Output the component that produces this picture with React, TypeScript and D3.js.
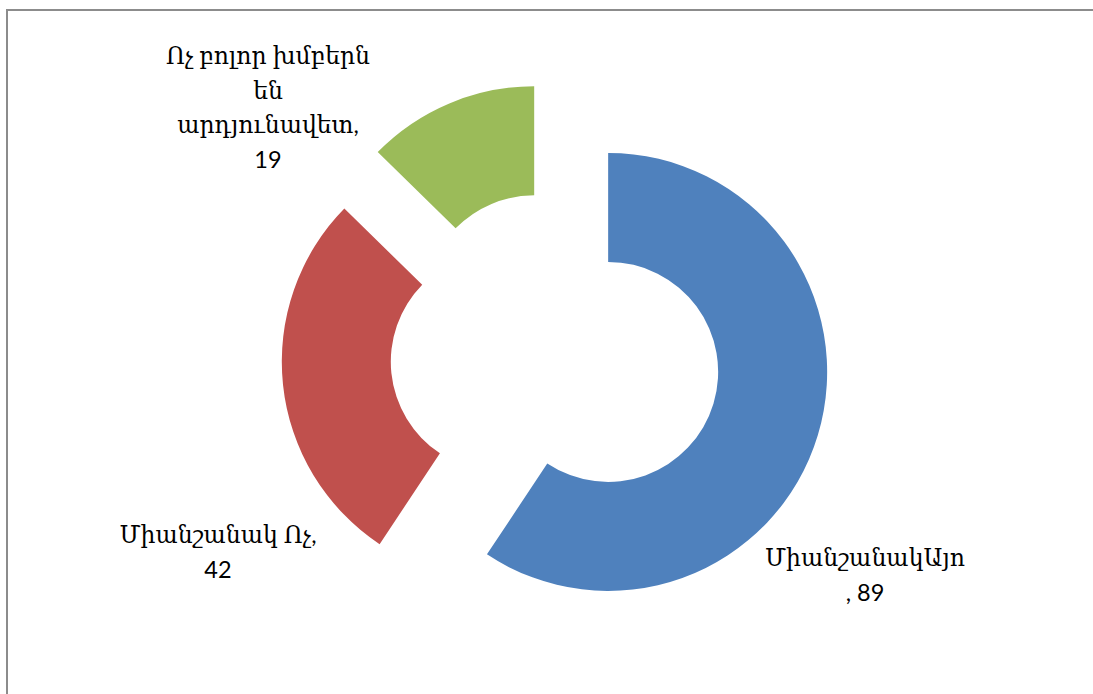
import React from "react";
import * as d3 from "d3";

const categories = ["ՄիանշանակԱյո", "Միանշանակ Ոչ", "Ոչ բոլոր խմբերն են արդյունավետ"];
const values = [89, 42, 19];
const colors = ["#4F81BD", "#C0504D", "#9BBB59"];
const labelLines = [
  ["ՄիանշանակԱյո", ", 89"],
  ["Միանշանակ Ոչ,", "42"],
  ["Ոչ բոլոր խմբերն", "են", "արդյունավետ,", "19"],
];
const labelAnchors = [
  { x: 865, y: 566 },
  { x: 218, y: 543 },
  { x: 268, y: 64 },
];

export default function App() {
  const W = 1093, H = 694;
  const cx = 555.5, cy = 356;
  const outerR = 219, innerR = 110, explode = 55;
  const pie = d3.pie<number>().sort(null).startAngle(0).endAngle(2 * Math.PI);
  const arcs = pie(values);
  const arc = d3.arc<d3.PieArcDatum<number>>().innerRadius(innerR).outerRadius(outerR);
  const lineH = 34.5;
  return (
    <svg width={W} height={H} style={{ position: "absolute", left: 0, top: 0, display: "block" }}>
      <rect x={0} y={0} width={W} height={H} fill="#ffffff" />
      <rect x={7} y={10} width={W + 100} height={H + 100} fill="none" stroke="#8c8c8c" strokeWidth={2} />
      {arcs.map((a, i) => {
        const mid = (a.startAngle + a.endAngle) / 2;
        const dx = Math.sin(mid) * explode;
        const dy = -Math.cos(mid) * explode;
        return (
          <path key={categories[i]} d={arc(a) || ""} fill={colors[i]} transform={`translate(${cx + dx},${cy + dy})`} />
        );
      })}
      {labelLines.map((lines, i) => (
        <text key={i} textAnchor="middle" fontFamily="Lato, 'DejaVu Serif', serif" fontSize={23.5} fill="#000">
          {lines.map((l, j) => (
            <tspan key={j} x={labelAnchors[i].x} y={labelAnchors[i].y + j * lineH}>{l}</tspan>
          ))}
        </text>
      ))}
    </svg>
  );
}
